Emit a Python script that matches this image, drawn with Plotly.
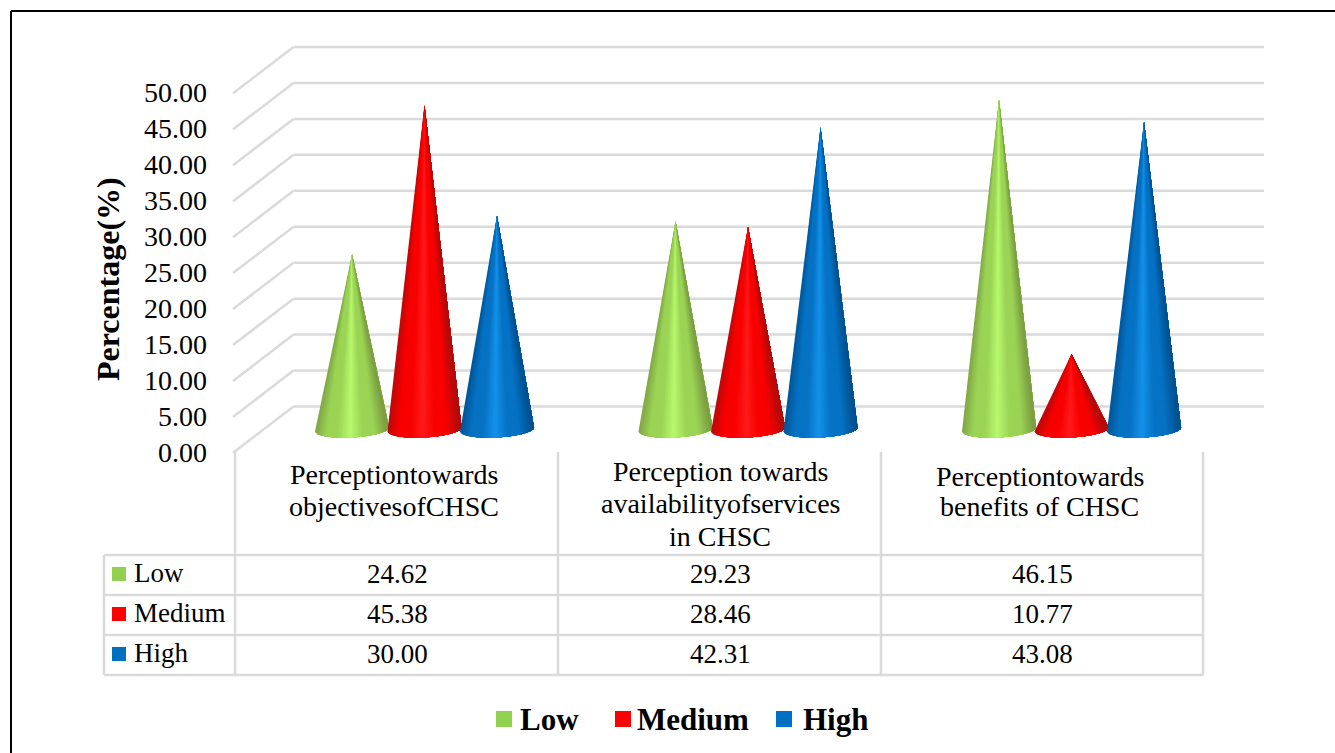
import numpy as np
import plotly.graph_objects as go

# ---- data ----
series_names = ["Low", "Medium", "High"]
low_values = [24.62, 29.23, 46.15]
medium_values = [45.38, 28.46, 10.77]
high_values = [30.00, 42.31, 43.08]
value_labels = {
    "Low": ["24.62", "29.23", "46.15"],
    "Medium": ["45.38", "28.46", "10.77"],
    "High": ["30.00", "42.31", "43.08"],
}
category_lines = [
    ["Perceptiontowards", "objectivesofCHSC"],
    ["Perception towards", "availabilityofservices", "in CHSC"],
    ["Perceptiontowards", "benefits of CHSC"],
]
tick_values = [0, 5, 10, 15, 20, 25, 30, 35, 40, 45, 50]
axis_title = "Percentage(%)"

# ---- layout constants (pixels of the 1335x753 page) ----
W, H = 1335, 753
FONT = "Liberation Serif"
GRID = "#DADADA"
SCALE = 7.19            # px per unit
Y0_FRONT = 452          # pixel of value 0 on the tick axis
Y0_CONE = 431.5         # pixel of value 0 at the cone's base centre
GROUP_PX = 323.5
GROUP0_PX = 424.5
OFFSET = 72.5 / GROUP_PX
HALF = 37 / GROUP_PX
DEPTH = 45.5 / SCALE


def px(x):
    return x / W


def py(y):
    return 1 - y / H


palette = {
    "Low": {"edge": "#7C9F42", "mid": "#B9F86E", "flat": "#92D050", "body": "#9BD455"},
    "Medium": {"edge": "#B00C0C", "mid": "#FF1A1A", "flat": "#FF0000", "body": "#F80000"},
    "High": {"edge": "#00518F", "mid": "#1492EA", "flat": "#0070C0", "body": "#0672C4"},
}


def hex2rgb(h):
    return np.array([int(h[i:i + 2], 16) for i in (1, 3, 5)], float)


def shade(name, u):
    """u in [-1, 1] across the cone; edge -> body -> highlight -> body -> edge."""
    p = palette[name]
    edge, body, mid = hex2rgb(p["edge"]), hex2rgb(p["body"]), hex2rgb(p["mid"])
    a = abs(u + 0.05)
    if a < 0.35:
        c = mid + (body - mid) * (a / 0.35)
    elif a < 0.65:
        c = body
    else:
        c = body + (edge - body) * min((a - 0.65) / 0.35, 1)
    return "rgb(%d,%d,%d)" % tuple(c)


fig = go.Figure()

N = 40
series_values = {"Low": low_values, "Medium": medium_values, "High": high_values}
for s, name in enumerate(series_names):
    for g, v in enumerate(series_values[name]):
        cx = g + (s - 1) * OFFSET
        # even steps across the visible width; each layer covers everything to its right
        us = np.linspace(-1, 1, N + 1)
        for k in range(N):
            t = np.arccos(np.linspace(us[k], 1, 3 + 2 * (N - k)))
            xs = cx + HALF * np.cos(t)
            # tilted elliptical base, expressed in value units
            ys = (-(8 * np.sin(t) - 2 * np.cos(t) - 2)) / SCALE
            col = shade(name, float((us[k] + us[k + 1]) / 2))
            fig.add_trace(go.Scatter(
                x=np.r_[cx, xs, cx], y=np.r_[v, ys, v], yaxis="y2",
                mode="lines", fill="toself", fillcolor=col,
                line=dict(width=0), hoverinfo="skip",
                showlegend=False, name=name,
            ))

shapes = []
annos = []


def line(x0, y0, x1, y1, color=GRID, width=2.5):
    shapes.append(dict(type="line", xref="paper", yref="paper", x0=px(x0), y0=py(y0),
                       x1=px(x1), y1=py(y1), line=dict(color=color, width=width), layer="below"))


def text(x, y, s, size=27, anchor="center", bold=False):
    annos.append(dict(xref="paper", yref="paper", x=px(x), y=py(y), text=f"<b>{s}</b>" if bold else s,
                      showarrow=False, xanchor=anchor, yanchor="middle", borderpad=0,
                      font=dict(family=FONT, size=size, color="#000000")))


# walls: gridlines tied to the tick values
for v in tick_values:
    shapes.append(dict(type="line", xref="paper", yref="y", x0=px(233), x1=px(293.5), y0=v - 0.12, y1=v + DEPTH,
                       line=dict(color=GRID, width=2.5), layer="below"))
    shapes.append(dict(type="line", xref="paper", yref="y", x0=px(293.5), x1=px(1264), y0=v + DEPTH, y1=v + DEPTH,
                       line=dict(color=GRID, width=2.5), layer="below"))

# page frame
line(11, 11, 1335, 11, "#000000", 2)
line(11, 11, 11, 753, "#000000", 2)

# data table
for x in [235, 558, 881, 1203]:
    line(x, 452, x, 675)
line(104, 555, 104, 675)
for y in [555, 595, 635, 675]:
    line(104, y, 1203, y)

col_centres = [397, 720, 1042]
cat_centres = [393.5, 720, 1039.5]
cat_y = [[474, 507], [471, 504, 536], [476, 507]]
for c, lines_ in enumerate(category_lines):
    for ln, yy in zip(lines_, cat_y[c]):
        text(cat_centres[c], yy, ln, size=28)

row_y = [574, 614, 654]
for r, name in enumerate(series_names):
    yy = row_y[r]
    shapes.append(dict(type="rect", xref="paper", yref="paper", x0=px(112), x1=px(126),
                       y0=py(yy - 7), y1=py(yy + 7), fillcolor=palette[name]["flat"], line=dict(width=0)))
    text(132.5, yy - 1, name, anchor="left")
    for c in range(3):
        text(col_centres[c], yy, value_labels[name][c])

# bottom legend
for name, sq, tx in zip(series_names, [496, 615, 776], [519, 636, 802]):
    shapes.append(dict(type="rect", xref="paper", yref="paper", x0=px(sq), x1=px(sq + 16),
                       y0=py(711), y1=py(727), fillcolor=palette[name]["flat"], line=dict(width=0)))
    text(tx, 719, name, size=31, anchor="left", bold=True)

# axis title
annos.append(dict(xref="paper", yref="paper", x=px(108), y=py(279), text=f"<b>{axis_title}</b>", showarrow=False,
                  textangle=-90, xanchor="center", yanchor="middle",
                  font=dict(family=FONT, size=32, color="#000000")))

fig.update_layout(
    width=W, height=H, margin=dict(l=0, r=0, t=0, b=0),
    paper_bgcolor="#FFFFFF", plot_bgcolor="#FFFFFF", showlegend=False,
    xaxis=dict(domain=[0, 1], range=[-GROUP0_PX / GROUP_PX, (W - GROUP0_PX) / GROUP_PX], visible=False),
    yaxis=dict(domain=[0, 1], range=[(Y0_FRONT - H) / SCALE, Y0_FRONT / SCALE], anchor="free", position=px(207),
               side="left", tickvals=tick_values, tickformat=".2f", showgrid=False, zeroline=False,
               showline=False, ticks="", tickfont=dict(family=FONT, size=28, color="#000000")),
    yaxis2=dict(domain=[0, 1], range=[(Y0_CONE - H) / SCALE, Y0_CONE / SCALE], overlaying="y", visible=False),
    shapes=shapes, annotations=annos,
)

fig.write_html("out.html", config={"displayModeBar": False},
               post_script="document.body.style.margin='0';document.body.style.overflow='hidden';")
